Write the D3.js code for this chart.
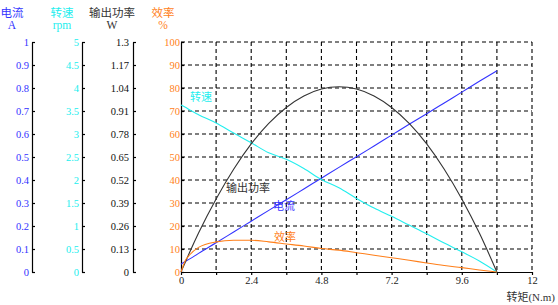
<!DOCTYPE html>
<html>
<head>
<meta charset="utf-8">
<script src="https://cdn.jsdelivr.net/npm/d3@7"></script>
<style>
  body { margin: 0; background: #fff; }
  text { font-family: "Liberation Serif", "Noto Sans CJK SC", serif; }
</style>
</head>
<body>
<svg id="chart" width="558" height="305"></svg>
<script>
// torque samples (N.m) and measured curves
const torque     = [0, 0.15, 0.3, 0.6, 1.2, 1.8, 2.4, 3.0, 3.6, 4.2, 4.8, 5.4, 6.0, 6.6, 7.2, 7.8, 8.4, 9.0, 9.6, 10.2, 10.8];
const current    = [0.034, 0.046, 0.057, 0.081, 0.127, 0.174, 0.221, 0.268, 0.314, 0.361, 0.408, 0.455, 0.501, 0.548, 0.595, 0.642, 0.688, 0.735, 0.782, 0.829, 0.875];
const speed      = [3.63, 3.58, 3.52, 3.42, 3.24, 3.02, 2.81, 2.59, 2.45, 2.25, 2.01, 1.83, 1.60, 1.39, 1.21, 1.02, 0.83, 0.63, 0.44, 0.24, 0];
const power      = [0, 0.057, 0.113, 0.220, 0.413, 0.581, 0.724, 0.840, 0.930, 0.995, 1.034, 1.047, 1.034, 0.995, 0.930, 0.840, 0.724, 0.581, 0.413, 0.220, 0];
const efficiency = [0, 5.0, 7.5, 10.7, 13.1, 13.8, 13.8, 13.1, 12.2, 11.3, 10.2, 9.5, 8.4, 7.3, 6.2, 5.1, 3.9, 2.8, 1.9, 0.9, 0];

const currentTicks = [0, 0.1, 0.2, 0.3, 0.4, 0.5, 0.6, 0.7, 0.8, 0.9, 1];
const speedTicks   = [0, 0.5, 1, 1.5, 2, 2.5, 3, 3.5, 4, 4.5, 5];
const powerTicks   = [0, 0.13, 0.26, 0.39, 0.52, 0.65, 0.78, 0.91, 1.04, 1.17, 1.3];
const effTicks     = [0, 10, 20, 30, 40, 50, 60, 70, 80, 90, 100];
const torqueTicks  = [0, 1.2, 2.4, 3.6, 4.8, 6.0, 7.2, 8.4, 9.6, 10.8, 12];
const torqueLabels = [0, 2.4, 4.8, 7.2, 9.6, 12];

const blue = "#3333ff", cyan = "#22eeee", dark = "#333", orange = "#ff7f1a";

const svg = d3.select("#chart");

const plotTop = 42, plotBottom = 272;
const x = d3.scaleLinear().domain([0, 12]).range([181, 532]);
const yCur = d3.scaleLinear().domain([0, 1]).range([plotBottom, plotTop]);
const ySpd = d3.scaleLinear().domain([0, 5]).range([plotBottom, plotTop]);
const yPow = d3.scaleLinear().domain([0, 1.3]).range([plotBottom, plotTop]);
const yEff = d3.scaleLinear().domain([0, 100]).range([plotBottom, plotTop]);

// dashed grid
const grid = svg.append("g").attr("stroke", "#000").attr("stroke-width", 1.1).attr("stroke-dasharray", "4,3");
grid.selectAll("line.h")
    .data(effTicks.slice(1))
    .enter().append("line")
    .attr("x1", x(0)).attr("x2", x(12))
    .attr("y1", d => yEff(d)).attr("y2", d => yEff(d));
grid.selectAll("line.v")
    .data(torqueTicks.slice(1))
    .enter().append("line")
    .attr("y1", plotTop).attr("y2", plotBottom)
    .attr("x1", d => x(d)).attr("x2", d => x(d));

// left axes
function leftAxis(scale, ticks, fmt, pos, color, pad) {
    const g = svg.append("g")
        .attr("transform", `translate(${pos},0)`)
        .call(d3.axisLeft(scale).tickValues(ticks).tickFormat(fmt)
            .tickSizeInner(-3).tickSizeOuter(0).tickPadding(pad));
    g.select(".domain").attr("stroke", "#000").attr("stroke-width", 1.2);
    g.selectAll(".tick line").attr("stroke", "#000").attr("stroke-width", 1.2);
    g.selectAll(".tick text").attr("fill", color).style("font-size", "10.5px")
        .style("font-family", "Liberation Serif");
    return g;
}
leftAxis(yCur, currentTicks, d => d, 32, blue, 3);
leftAxis(ySpd, speedTicks, d => d, 82, cyan, 3);
leftAxis(yPow, powerTicks, d => d, 133, "#111", 4);
leftAxis(yEff, effTicks, d => d, 181, orange, 1);

// x axis
const xg = svg.append("g")
    .attr("transform", `translate(0,${plotBottom})`)
    .call(d3.axisBottom(x).tickValues(torqueTicks)
        .tickFormat(d => torqueLabels.includes(d) ? d : "")
        .tickSizeInner(3).tickSizeOuter(0).tickPadding(2));
xg.select(".domain").attr("stroke", "#000").attr("stroke-width", 1.2);
xg.selectAll(".tick line").attr("stroke", "#000").attr("stroke-width", 1.2);
xg.selectAll(".tick text").attr("fill", "#222").style("font-size", "10.5px");

// headers
const headers = [
    {t: "电流", u: "A", cx: 12, c: blue},
    {t: "转速", u: "rpm", cx: 62, c: cyan},
    {t: "输出功率", u: "W", cx: 112, c: "#333"},
    {t: "效率", u: "%", cx: 163, c: orange}
];
headers.forEach(h => {
    svg.append("text").attr("x", h.cx).attr("y", 17).attr("text-anchor", "middle")
        .attr("fill", h.c).style("font-size", "11.5px").text(h.t);
    svg.append("text").attr("x", h.cx).attr("y", 29).attr("text-anchor", "middle")
        .attr("fill", h.c).style("font-size", "11.5px").text(h.u);
});

svg.append("text").attr("x", 555).attr("y", 301).attr("text-anchor", "end")
    .attr("fill", "#333").style("font-size", "11px").text("转矩(N.m)");

// curves
const series = [
    {v: current, y: yCur, c: blue},
    {v: speed, y: ySpd, c: cyan},
    {v: power, y: yPow, c: dark},
    {v: efficiency, y: yEff, c: orange}
];
series.forEach(s => {
    const line = d3.line()
        .x((d, i) => x(torque[i]))
        .y(d => s.y(d))
        .curve(d3.curveMonotoneX);
    svg.append("path")
        .datum(s.v)
        .attr("fill", "none")
        .attr("stroke", s.c)
        .attr("stroke-width", 1.1)
        .attr("d", line);
});

// curve labels
const labels = [
    {t: "转速", x: 190, y: 101, c: cyan},
    {t: "输出功率", x: 226, y: 192, c: "#333"},
    {t: "电流", x: 273, y: 210, c: blue},
    {t: "效率", x: 274, y: 241, c: orange}
];
labels.forEach(l => {
    svg.append("text").attr("x", l.x).attr("y", l.y).attr("fill", l.c)
        .style("font-size", "11px").text(l.t);
});
</script>
</body>
</html>
